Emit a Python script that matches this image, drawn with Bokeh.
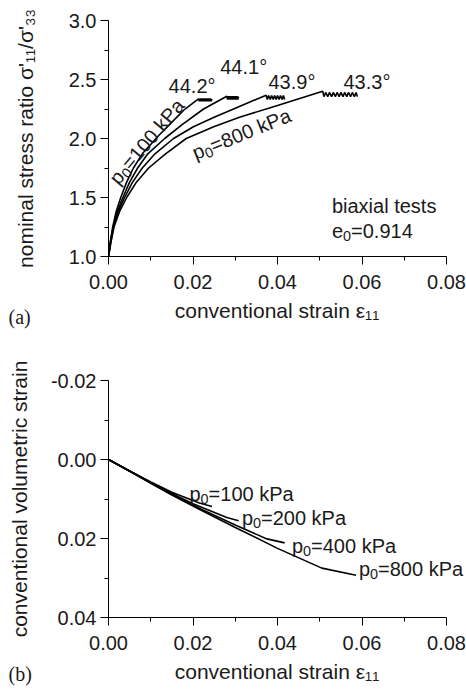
import math
from bokeh.plotting import figure
from bokeh.models import Range1d, Label, FixedTicker, Title
from bokeh.layouts import column
from bokeh.embed import file_html
from bokeh.resources import INLINE

# ---------------- data ----------------
# panel (a): stress ratio vs strain, pre-peak branches
S100_X = [0, 0.0004, 0.0010, 0.0018, 0.0029, 0.0043, 0.0059, 0.0080, 0.0100, 0.0120, 0.0145, 0.0178, 0.0213]
S100_Y = [1.0, 1.12, 1.25, 1.38, 1.50, 1.63, 1.75, 1.87, 1.95, 2.03, 2.12, 2.24, 2.335]
S200_X = [0, 0.0004, 0.0011, 0.0021, 0.0034, 0.0050, 0.0069, 0.0093, 0.0133, 0.0175, 0.0225, 0.0280]
S200_Y = [1.0, 1.11, 1.25, 1.38, 1.50, 1.63, 1.75, 1.87, 2.00, 2.12, 2.25, 2.358]
S400_X = [0, 0.0005, 0.0012, 0.0023, 0.0038, 0.0057, 0.0080, 0.0110, 0.0154, 0.0201, 0.0250, 0.0296, 0.0373]
S400_Y = [1.0, 1.11, 1.25, 1.38, 1.50, 1.63, 1.75, 1.87, 2.00, 2.10, 2.18, 2.25, 2.367]
S800_X = [0, 0.0005, 0.0013, 0.0026, 0.0043, 0.0066, 0.0095, 0.0135, 0.0184, 0.0249, 0.0310, 0.0400, 0.0507]
S800_Y = [1.0, 1.11, 1.25, 1.38, 1.50, 1.63, 1.75, 1.87, 2.00, 2.10, 2.18, 2.28, 2.400]
# post-peak oscillating branches
Z100_X = [0.0215, 0.0217, 0.0219, 0.0221, 0.0223, 0.0225, 0.0227, 0.0229, 0.0231, 0.0233, 0.0235, 0.0237, 0.0239, 0.0241, 0.0243, 0.0245]
Z100_Y = [2.315, 2.340, 2.315, 2.340, 2.315, 2.340, 2.315, 2.340, 2.315, 2.340, 2.315, 2.340, 2.315, 2.340, 2.315, 2.335]
Z200_X = [0.0282, 0.0284, 0.0286, 0.0288, 0.0290, 0.0292, 0.0294, 0.0296, 0.0298, 0.0300, 0.0302, 0.0304, 0.0306, 0.0308]
Z200_Y = [2.330, 2.358, 2.330, 2.358, 2.330, 2.358, 2.330, 2.358, 2.330, 2.358, 2.330, 2.358, 2.330, 2.355]
Z400_X = [0.0376, 0.0379, 0.0383, 0.0386, 0.0390, 0.0393, 0.0397, 0.0400, 0.0404, 0.0407, 0.0411, 0.0414, 0.0417]
Z400_Y = [2.330, 2.365, 2.330, 2.365, 2.330, 2.365, 2.330, 2.365, 2.330, 2.365, 2.330, 2.365, 2.330]
Z800_X = [0.0510, 0.0514, 0.0519, 0.0523, 0.0528, 0.0532, 0.0537, 0.0541, 0.0546, 0.0550,
          0.0555, 0.0559, 0.0564, 0.0568, 0.0573, 0.0577, 0.0582, 0.0586, 0.0589]
Z800_Y = [2.355, 2.390, 2.355, 2.390, 2.355, 2.390, 2.355, 2.390, 2.355, 2.390,
          2.355, 2.390, 2.355, 2.390, 2.355, 2.390, 2.355, 2.390, 2.355]

# panel (b): volumetric strain vs strain
V100_X = [0, 0.005, 0.010, 0.015, 0.0215, 0.0245]
V100_Y = [0, 0.0029, 0.0057, 0.0083, 0.0110, 0.0119]
V200_X = [0, 0.005, 0.010, 0.015, 0.020, 0.028, 0.0308]
V200_Y = [0, 0.0029, 0.0058, 0.0086, 0.0112, 0.0147, 0.0155]
V400_X = [0, 0.005, 0.010, 0.015, 0.020, 0.030, 0.0375, 0.0417]
V400_Y = [0, 0.0029, 0.0059, 0.0088, 0.0116, 0.0166, 0.0201, 0.0211]
V800_X = [0, 0.005, 0.010, 0.015, 0.020, 0.030, 0.040, 0.0505, 0.0586]
V800_Y = [0, 0.0030, 0.0060, 0.0090, 0.0118, 0.0172, 0.0225, 0.0275, 0.0293]

X_TICKS = [0.0, 0.02, 0.04, 0.06, 0.08]
X_LABELS = ["0.00", "0.02", "0.04", "0.06", "0.08"]
X_MINOR = [0.01, 0.03, 0.05, 0.07]
YA_TICKS = [1.0, 1.5, 2.0, 2.5, 3.0]
YA_LABELS = ["1.0", "1.5", "2.0", "2.5", "3.0"]
YA_MINOR = [1.25, 1.75, 2.25, 2.75]
YB_TICKS = [-0.02, 0.0, 0.02, 0.04]
YB_LABELS = ["-0.02", "0.00", "0.02", "0.04"]
YB_MINOR = [-0.01, 0.01, 0.03]

ANGLES = ["44.2°", "44.1°", "43.9°", "43.3°"]
XLABEL = "conventional strain ε₁₁"
YLABEL_A = "nominal stress ratio σ'₁₁/σ'₃₃"
YLABEL_B = "conventional volumetric strain"

# ---------------- helpers ----------------
FONT = "Liberation Sans"
TXT = "#1a1a1a"
W = {' ': .278, '.': .278, '=': .584, '°': .4, '/': .278, "'": .191, '-': .333,
     'a': .556, 'b': .556, 'c': .5, 'd': .556, 'e': .556, 'i': .222, 'k': .5, 'l': .222,
     'm': .833, 'n': .556, 'o': .556, 'p': .556, 'r': .333, 's': .5, 't': .278, 'u': .556,
     'v': .5, 'x': .5, 'P': .667}


def tw(s):
    return sum(W.get(c, .556) for c in s)


def rich(p, x, y, parts, size=20, angle=0.0, font=FONT, sub_scale=0.72, sub_drop=0.25):
    a = math.radians(angle)
    adv = 0.0
    for text, sub in parts:
        fs = size * sub_scale if sub else size
        drop = size * sub_drop if sub else 0.0
        dx = adv * math.cos(a) + drop * math.sin(a)
        dy = adv * math.sin(a) - drop * math.cos(a)
        p.add_layout(Label(x=x, y=y, x_offset=dx, y_offset=dy, text=text, angle=a,
                           text_font=font, text_font_size=f"{fs:.1f}px", text_color=TXT,
                           text_align="left", text_baseline="alphabetic"))
        adv += tw(text) * fs


def style(p, yt, yl, ym, ylabel, ylabel_standoff, xlabel_standoff, tag, tag_standoff):
    p.grid.visible = False
    p.outline_line_color = None
    p.xaxis.ticker = FixedTicker(ticks=X_TICKS, minor_ticks=X_MINOR)
    p.xaxis.major_label_overrides = dict(zip(X_TICKS, X_LABELS))
    p.xaxis.bounds = (X_TICKS[0], X_TICKS[-1])
    p.yaxis.ticker = FixedTicker(ticks=yt, minor_ticks=ym)
    p.yaxis.major_label_overrides = dict(zip(yt, yl))
    for ax in (p.xaxis[0], p.yaxis[0]):
        ax.axis_line_color = "black"
        ax.axis_line_width = 1
        ax.major_tick_line_color = "black"
        ax.minor_tick_line_color = "black"
        ax.major_tick_out = 8
        ax.major_tick_in = 0
        ax.minor_tick_out = 4
        ax.minor_tick_in = 0
        ax.major_label_text_font = FONT
        ax.major_label_text_font_size = "20px"
        ax.major_label_text_color = TXT
        ax.axis_label_text_font = FONT
        ax.axis_label_text_font_size = "21px"
        ax.axis_label_text_font_style = "normal"
        ax.axis_label_text_color = TXT
    p.xaxis.major_label_standoff = 10
    p.yaxis.major_label_standoff = 4
    # trailing em space re-centres the label on the drawn part of the axis
    p.xaxis.axis_label = XLABEL + "\u2003"
    p.xaxis.axis_label_standoff = xlabel_standoff
    p.yaxis.axis_label = ylabel
    p.yaxis.axis_label_standoff = ylabel_standoff
    # panel tag "(a)" / "(b)" at the lower left corner
    t = Title(text=tag, align="left", offset=-100, vertical_align="top",
              text_font="Liberation Serif", text_font_size="20px",
              text_font_style="normal", text_color=TXT)
    t.standoff = tag_standoff
    p.add_layout(t, "below")


X_END = 0.08 + 20 / 4225.0

# ---------------- panel (a) ----------------
p1 = figure(width=466, height=340, x_range=Range1d(0, X_END), y_range=Range1d(1.0, 3.0),
            output_backend="svg", toolbar_location=None,
            min_border_left=108, min_border_right=0, min_border_top=20, min_border_bottom=84)
style(p1, YA_TICKS, YA_LABELS, YA_MINOR, YLABEL_A, 29, 7, "(a)", -38)
for sx, sy, zx, zy in [(S100_X, S100_Y, Z100_X, Z100_Y), (S200_X, S200_Y, Z200_X, Z200_Y),
                       (S400_X, S400_Y, Z400_X, Z400_Y), (S800_X, S800_Y, Z800_X, Z800_Y)]:
    p1.line(sx + zx, sy + zy, line_color="black", line_width=1.6)

for txt, (lx, ly) in zip(ANGLES, [(0.01423, 2.449), (0.02644, 2.604), (0.03787, 2.477), (0.05562, 2.477)]):
    rich(p1, lx, ly, [(txt, False)], size=20)
rich(p1, 0.00111, 1.636, [("p", False), ("0", True), ("=100 kPa", False)], size=20, angle=50)
rich(p1, 0.02005, 1.873, [("p", False), ("0", True), ("=800 kPa", False)], size=20, angle=22)
rich(p1, 0.05288, 1.424, [("biaxial tests", False)], size=20)
rich(p1, 0.05288, 1.220, [("e", False), ("0", True), ("=0.914", False)], size=20)

# ---------------- panel (b) ----------------
p2 = figure(width=466, height=349, x_range=Range1d(0, X_END), y_range=Range1d(0.04, -0.02),
            output_backend="svg", toolbar_location=None,
            min_border_left=108, min_border_right=0, min_border_top=40, min_border_bottom=72)
style(p2, YB_TICKS, YB_LABELS, YB_MINOR, YLABEL_B, 17, 7, "(b)", -46)
for vx, vy in [(V100_X, V100_Y), (V200_X, V200_Y), (V400_X, V400_Y), (V800_X, V800_Y)]:
    p2.line(vx, vy, line_color="black", line_width=1.6)

for name, (lx, ly) in zip(["=100 kPa", "=200 kPa", "=400 kPa", "=800 kPa"],
                          [(0.01917, 0.008646), (0.03157, 0.01488), (0.04341, 0.02191), (0.05927, 0.02781)]):
    rich(p2, lx, ly, [("p", False), ("0", True), (name, False)], size=20)

layout = column(p1, p2)
open("out.html", "w").write(file_html(layout, INLINE))
